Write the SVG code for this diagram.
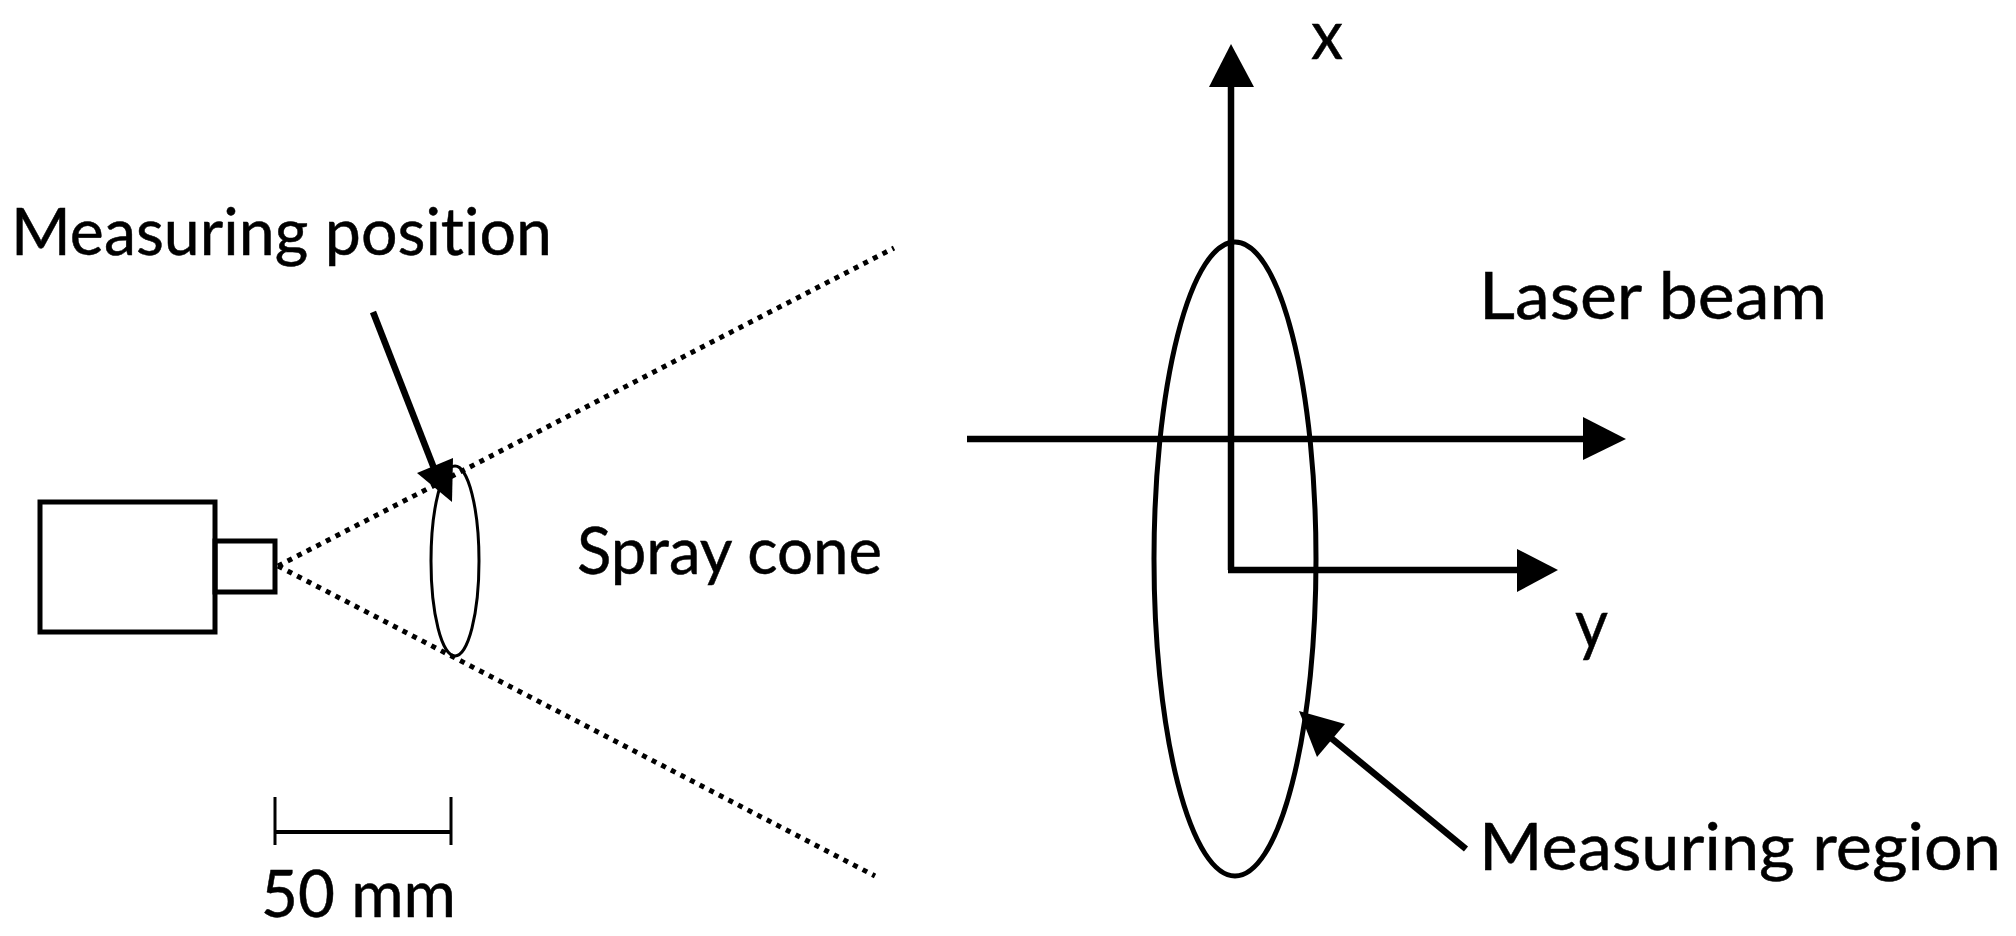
<svg xmlns="http://www.w3.org/2000/svg" width="2016" height="936" viewBox="0 0 2016 936">
<style>
text{font-family:"Lato","Carlito","Open Sans",sans-serif;font-size:66px;fill:#000;stroke:#000;stroke-width:.5;font-variant-ligatures:none}
.s{fill:none;stroke:#000}
.a{fill:none;stroke:#000;stroke-width:6.5}
.d{fill:none;stroke:#000;stroke-width:5;stroke-dasharray:5 5.8}
.h{fill:#000;stroke:none}
</style>
<rect width="2016" height="936" fill="#fff"/>
<g id="camera">
<rect class="s" x="40" y="502" width="175" height="130" stroke-width="5"/>
<rect class="s" x="215" y="541" width="60" height="51" stroke-width="5"/>
</g>
<g id="spray-ellipse"><ellipse class="s" cx="455" cy="561" rx="24" ry="95" stroke-width="3"/></g>
<g id="region-ellipse"><ellipse class="s" cx="1235" cy="559" rx="81" ry="317" stroke-width="5"/></g>
<g id="scale-bar">
<path class="s" d="M275 797V845M451 797V845" stroke-width="3"/>
<path class="s" d="M275 832H451" stroke-width="4"/>
</g>
<g id="connectors">
<path class="d" d="M278 566L894 248"/>
<path class="d" d="M278 566L875 876"/>
<path class="a" d="M373 312L437 476"/>
<polygon class="h" points="453,458 417,473 452,502"/>
<path class="a" d="M1231 570V85"/>
<polygon class="h" points="1231,44 1209,87 1254,87"/>
<path class="a" d="M967 439H1590"/>
<polygon class="h" points="1626,439 1583,417 1583,460"/>
<path class="a" d="M1228 570H1520"/>
<polygon class="h" points="1558,570 1517,549 1517,592"/>
<path class="a" d="M1466 849L1325 733"/>
<polygon class="h" points="1299,711 1345,724 1317,757"/>
</g>
<g id="labels">
<text x="11" y="255" textLength="541" lengthAdjust="spacingAndGlyphs">Measuring position</text>
<text x="577" y="574" textLength="305" lengthAdjust="spacingAndGlyphs">Spray cone</text>
<text x="1479" y="319" textLength="348" lengthAdjust="spacingAndGlyphs">Laser beam</text>
<text x="1311" y="59" textLength="32" lengthAdjust="spacingAndGlyphs" style="font-size:70px">x</text>
<text x="1575" y="648" textLength="33" lengthAdjust="spacingAndGlyphs" style="font-size:70px">y</text>
<text x="1479" y="870" textLength="522" lengthAdjust="spacingAndGlyphs">Measuring region</text>
<text x="261" y="917" textLength="195" lengthAdjust="spacingAndGlyphs">50 mm</text>
</g>
</svg>
